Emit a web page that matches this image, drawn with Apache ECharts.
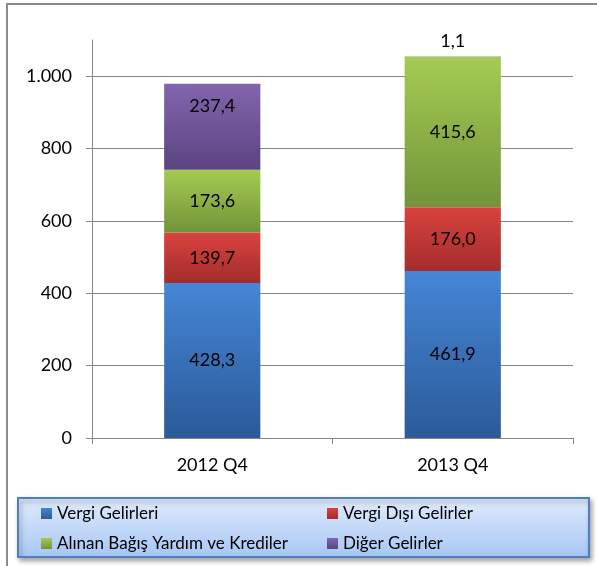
<!DOCTYPE html>
<html>
<head>
<meta charset="utf-8">
<script src="https://cdn.jsdelivr.net/npm/echarts@6/dist/echarts.min.js"></script>
<style>html,body{margin:0;padding:0;background:#fff}#c{width:597px;height:566px}</style>
</head>
<body>
<div id="c"></div>
<script>
var categories = ['2012 Q4', '2013 Q4'];
var seriesNames = ['Vergi Gelirleri', 'Vergi Dışı Gelirler', 'Alınan Bağış Yardım ve Krediler', 'Diğer Gelirler'];
var vergiGelirleri = [428.3, 461.9];
var vergiDisiGelirler = [139.7, 176.0];
var alinanBagis = [173.6, 415.6];
var digerGelirler = [237.4, 1.1];
var yTicks = [0, 200, 400, 600, 800, 1000];

var gradients = [
  ['#4586D6', '#2B5A98'],
  ['#DA423F', '#A32D2B'],
  ['#A5CB52', '#73933A'],
  ['#8265AF', '#5B447F']
];
var markerColors = ['#3B6DB1', '#C93B37', '#8FB446', '#7056A0'];
var FONT = 'Lato';

function grad(c) {
  return new echarts.graphic.LinearGradient(0, 0, 0, 1, [{offset: 0, color: c[0]}, {offset: 1, color: c[1]}]);
}
function fmt(v) { return v.toFixed(1).replace('.', ','); }

var allData = [vergiGelirleri, vergiDisiGelirler, alinanBagis, digerGelirler];
var series = allData.map(function (arr, i) {
  return {
    name: seriesNames[i],
    type: 'bar',
    stack: 'total',
    barWidth: '40%',
    itemStyle: {color: grad(gradients[i])},
    label: {
      show: true, position: 'inside', color: '#000', fontFamily: FONT, fontSize: 18,
      formatter: function (p) { return fmt(p.value); }
    },
    data: arr.map(function (v, j) {
      if (i === 3 && j === 0) return {value: v, label: {position: 'insideTop', distance: 13}};
      if (i === 3 && j === 1) return {value: v, label: {position: 'top', distance: 6}};
      return v;
    })
  };
});

var legendCommon = {
  orient: 'vertical', top: 505, itemWidth: 11, itemHeight: 11, itemGap: 13,
  icon: 'rect', padding: 0,
  textStyle: {fontFamily: FONT, fontSize: 17, color: '#000', lineHeight: 17}
};

var chart = echarts.init(document.getElementById('c'));
chart.setOption({
  animation: false,
  grid: {left: 92, right: 24, top: 40, bottom: 128},
  legend: [
    Object.assign({data: [seriesNames[0], seriesNames[2]], left: 41}, legendCommon),
    Object.assign({data: [seriesNames[1], seriesNames[3]], left: 327}, legendCommon)
  ],
  color: markerColors,
  xAxis: {
    type: 'category', data: categories,
    axisLine: {lineStyle: {color: '#868686', width: 1}},
    axisTick: {show: true, length: 6, lineStyle: {color: '#868686'}},
    axisLabel: {fontFamily: FONT, fontSize: 18, color: '#000', margin: 18}
  },
  yAxis: {
    type: 'value', min: 0, max: 1100, interval: 200,
    axisLine: {show: true, lineStyle: {color: '#868686'}},
    axisTick: {show: true, length: 6, lineStyle: {color: '#868686'}, customValues: yTicks},
    axisLabel: {
      fontFamily: FONT, fontSize: 18, color: '#000', margin: 20, customValues: yTicks,
      formatter: function (v) { return v >= 1000 ? (v / 1000).toFixed(0) + '.' + ('00' + (v % 1000)).slice(-3) : String(v); }
    },
    splitLine: {show: true, lineStyle: {color: ['#868686', '#868686', '#868686', '#868686', '#868686', '#868686', 'rgba(0,0,0,0)']}}
  },
  graphic: [
    {
      type: 'rect', shape: {x: 7, y: 4, width: 620, height: 620}, z: -10, silent: true,
      style: {fill: 'none', stroke: '#8C8C8C', lineWidth: 2}
    },
    {
      type: 'rect', shape: {x: 18, y: 498, width: 571, height: 59}, z: -5, silent: true,
      style: {
        fill: new echarts.graphic.LinearGradient(0, 0, 0, 1, [{offset: 0, color: '#E1ECFD'}, {offset: 1, color: '#A6C6F5'}]),
        stroke: '#4F7FBD', lineWidth: 2,
        shadowBlur: 5, shadowOffsetX: 2, shadowOffsetY: 3, shadowColor: 'rgba(0,0,0,0.35)'
      }
    }
  ],
  series: series
});
</script>
</body>
</html>
